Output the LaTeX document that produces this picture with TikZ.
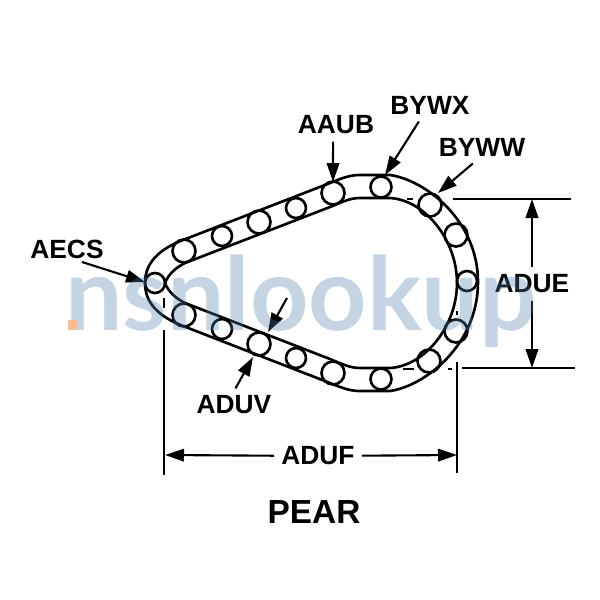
\documentclass[tikz,border=0pt]{standalone}
\usepackage{fontspec}
\setmainfont{Liberation Sans}
\newfontfamily\markfont{Lato}
\usepackage{tikz}
\usetikzlibrary{arrows.meta}
\definecolor{markblue}{RGB}{80,125,170}
\definecolor{markdot}{RGB}{250,190,150}
\tikzset{part/.style = {line width=1.5pt},
         dimline/.style = {line width=1.2pt},
         dimarrow/.style = {line width=1.2pt, -{Stealth[inset=0pt, length=0.38cm, width=0.25cm]}},
         lbl/.style = {font=\bfseries\fontsize{15}{15}\selectfont, inner sep=4pt}}

\begin{document}
\begin{tikzpicture}[x=0.02cm, y=-0.02cm]
      \useasboundingbox (0, 0) rectangle (600, 600);
      \draw [part] (145, 283) .. controls (145, 262) and (160, 249) .. (183, 240) -- (330, 183)
        .. controls (342, 178) and (350, 175) .. (360, 175) -- (390, 175)
        .. controls (425, 180) and (478, 220) .. (478, 282)
        .. controls (478, 345) and (425, 386) .. (390, 391) -- (360, 391)
        .. controls (350, 391) and (342, 388) .. (330, 383) -- (183, 326)
        .. controls (160, 317) and (145, 304) .. (145, 283) -- cycle;
      \draw [part] (165, 283) .. controls (168, 275) and (175, 268) .. (185, 263) -- (330, 207)
        .. controls (342, 202) and (350, 198) .. (360, 198) -- (390, 198)
        .. controls (425, 200) and (457, 240) .. (457, 283)
        .. controls (457, 326) and (425, 366) .. (390, 368) -- (360, 368)
        .. controls (350, 368) and (342, 364) .. (330, 359) -- (185, 303)
        .. controls (175, 298) and (168, 291) .. (165, 283) -- cycle;
      \foreach \x/\y/\r in {155/283/10, 184/251/11.5, 222/236/10, 259/222/11.5, 296/208/10,
                            333/193/11.5, 381/187/10.5, 430/205/11.5, 456/235/11.5, 467/281/10,
                            456/331/11.5, 429/361/11.5, 381/379/10.5, 333/373/11.5, 296/358/10,
                            259/344/11.5, 222/329/10, 184/315/11.5}
        \draw [part] (\x, \y) circle [radius=\r];
      % centre marks and extension lines
      \draw [dimline] (407, 199) -- (413, 199);
      \draw [dimline] (403, 369) -- (414, 369);
      \draw [dimline] (448, 369) -- (452, 369);
      \draw [dimline] (457, 311) -- (457, 315);
      \draw [dimline] (164, 298) -- (164, 308);
      \draw [dimline] (453, 199) -- (571, 199);
      \draw [dimline] (462, 368) -- (575, 368);
      \draw [dimline] (164, 330) -- (164, 475);
      \draw [dimline] (457, 362) -- (457, 473);
      % labels
      \node [lbl] (aecs) at (67, 249) {AECS};
      \node [lbl] (aaub) at (336, 125) {AAUB};
      \node [lbl] (bywx) at (430, 105) {BYWX};
      \node [lbl] (byww) at (482, 147) {BYWW};
      \node [lbl] (adue) at (532, 284) {ADUE};
      \node [lbl] (aduv) at (234, 405) {ADUV};
      \node [lbl] (aduf) at (318, 456) {ADUF};
      \node [font=\bfseries\fontsize{19}{19}\selectfont] (pear) at (314, 512) {PEAR};
      \coordinate (aecsout) at (82, 262);
      \coordinate (aecstip) at (145, 282);
      \coordinate (aaubtip) at (333, 182);
      \coordinate (bywxtip) at (385, 175);
      \coordinate (bywwtip) at (438, 193);
      \coordinate (duetop) at (532, 199);
      \coordinate (duebot) at (532, 368);
      \coordinate (dufleft) at (165, 455);
      \coordinate (dufright) at (457, 455);
      \coordinate (duvout) at (287, 298);
      \coordinate (duvtip) at (268, 332);
      \coordinate (duvlow) at (253, 357);
      \draw [dimarrow] (aecsout) -- (aecstip);
      \draw [dimarrow] (aaub.-100) -- (aaubtip);
      \draw [dimarrow] (bywx.-124) -- (bywxtip);
      \draw [dimarrow] (byww.-119) -- (bywwtip);
      \draw [dimarrow] (adue) -- (duetop);
      \draw [dimarrow] (adue) -- (duebot);
      \draw [dimarrow] (aduf) -- (dufleft);
      \draw [dimarrow] (aduf) -- (dufright);
      \draw [dimarrow] (duvout) -- (duvtip);
      \draw [dimarrow] (aduv.85) -- (duvlow);
      % watermark
      \node [font=\markfont\bfseries\fontsize{58}{58}\selectfont, text=markblue, opacity=0.33, inner sep=0pt, anchor=base] (nsn) at (301, 330) {nsnlookup};
      \fill [markdot] (68, 320) rectangle (77, 330);
    \end{tikzpicture}
\end{document}
